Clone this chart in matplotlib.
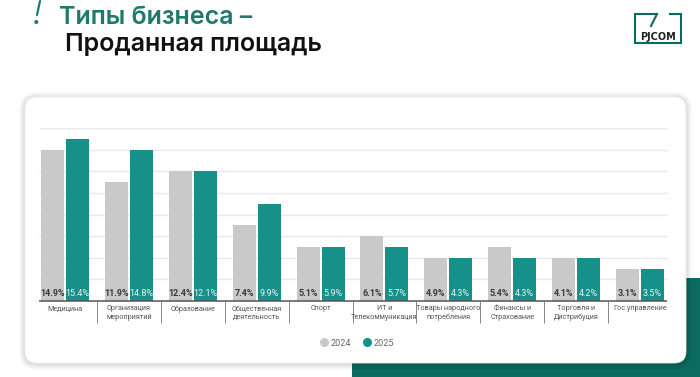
import numpy as np
import matplotlib
matplotlib.use("Agg")
import matplotlib.pyplot as plt
from matplotlib.patches import FancyBboxPatch, Rectangle, Circle
from matplotlib.lines import Line2D
from matplotlib.transforms import blended_transform_factory

plt.rcParams['font.family'] = ['Roboto', 'DejaVu Sans']

# ---- data ----
categories = ["Медицина", "Организация\nмероприятий", "Образование",
              "Общественная\nдеятельность", "Спорт", "ИТ и\nТелекоммуникация",
              "Товары народного\nпотребления", "Финансы и\nСтрахование",
              "Торговля и\nДистрибуция", "Гос.управление"]
# bar heights as drawn in the picture (gridline step = 2)
bars_2024 = [14, 11, 12, 7, 5, 6, 4, 5, 4, 3]
bars_2025 = [15, 14, 12, 9, 5, 5, 4, 4, 4, 3]
# labels printed on the bars
labels_2024 = ["14.9%", "11.9%", "12.4%", "7.4%", "5.1%", "6.1%", "4.9%", "5.4%", "4.1%", "3.1%"]
labels_2025 = ["15.4%", "14.8%", "12.1%", "9.9%", "5.9%", "5.7%", "4.3%", "4.3%", "4.2%", "3.5%"]
series_names = ["2024", "2025"]

GRAY = "#c9c9c9"
TEAL = "#17908a"
DARK_TEAL = "#0b6b60"
TITLE_TEAL = "#1f7a6c"

W, H = 700, 377
fig = plt.figure(figsize=(W / 100, H / 100), dpi=100)
fig.patch.set_facecolor("white")

# background / decoration axes in pixel coordinates
bg = fig.add_axes([0, 0, 1, 1], zorder=0)
bg.set_xlim(0, W)
bg.set_ylim(H, 0)
bg.axis("off")

# teal block behind the card
bg.add_patch(Rectangle((352, 278), W - 352, H - 278, color=DARK_TEAL, lw=0))

# card shadow + card
for i, a in enumerate([0.025, 0.03, 0.035, 0.04]):
    s = 6 - i * 1.5
    bg.add_patch(FancyBboxPatch((25 - s, 97 - s + 1), 661 + 2 * s, 266 + 2 * s,
                                boxstyle="round,pad=0,rounding_size=%g" % (12 + s),
                                fc="black", ec="none", alpha=a))
bg.add_patch(FancyBboxPatch((25, 97), 661, 266, boxstyle="round,pad=0,rounding_size=12",
                            fc="white", ec="#ececec", lw=0.6))

# title
bg.plot([40, 37], [1, 15], color=TITLE_TEAL, lw=1.6, solid_capstyle="round")
bg.add_patch(Circle((36.3, 22), 1.3, color=TITLE_TEAL))
bg.text(59, 18, "Типы бизнеса –", fontsize=18, color=TITLE_TEAL, va="center",
        family=["Inter", "DejaVu Sans"], fontweight="semibold")
bg.text(65, 45, "Проданная площадь", fontsize=18, color="#111111", va="center",
        family=["Inter", "DejaVu Sans"], fontweight="semibold")

# logo
lw_logo = 1.5
bg.plot([657, 635, 635, 681, 681, 670], [14, 14, 43, 43, 14, 14], color=DARK_TEAL,
        lw=lw_logo, solid_joinstyle="miter")
bg.plot([657, 651], [14, 26], color=DARK_TEAL, lw=lw_logo)
bg.text(658, 36.5, "PJCOM", fontsize=7, color="#222222", ha="center", va="center",
        fontweight="bold", family=["DejaVu Sans"])

# ---- chart ----
left, right, base, top = 33, 672, 301, 128
ax = fig.add_axes([left / W, (H - base) / H, (right - left) / W, (base - top) / H], zorder=1)
ax.patch.set_alpha(0)

x = np.arange(len(categories))
bw = 0.36
off = 0.195
ax.set_xlim(-0.5, len(categories) - 0.5)
ax.set_ylim(0, 16)

x0 = (39 - left) / 64 - 0.5
x1 = (668 - left) / 64 - 0.5
ax.hlines(np.arange(2, 17, 2), x0, x1, color="#e8e8e8", lw=1.0, zorder=0)

ax.bar(x - off, bars_2024, bw, color=GRAY, zorder=2, label=series_names[0])
ax.bar(x + off, bars_2025, bw, color=TEAL, zorder=2, label=series_names[1])
ax.hlines(0, x0, x1, color="#555555", lw=1.1, zorder=3, clip_on=False)

for xi, l1, l2 in zip(x, labels_2024, labels_2025):
    ax.annotate(l1, (xi - off, 0), xytext=(0, 7), textcoords="offset pixels",
                ha="center", va="center", fontsize=6.5, fontweight="bold", color="#3a3a3a", zorder=4)
    ax.annotate(l2, (xi + off, 0), xytext=(0, 7), textcoords="offset pixels",
                ha="center", va="center", fontsize=6.5, color="#e8f4f2", zorder=4)

trans = blended_transform_factory(ax.transData, ax.transAxes)
ax.vlines(x[:-1] + 0.5, -22 / (base - top), 0, transform=trans, color="#888888", lw=0.7,
          clip_on=False)
for xi, c in zip(x, categories):
    ax.text(xi, -4.5 / (base - top), c, transform=trans, ha="center", va="top",
            fontsize=5.2, color="#555555", linespacing=1.25)

ax.set_xticks([])
ax.set_yticks([])
for s in ax.spines.values():
    s.set_visible(False)

handles = [Line2D([], [], marker="o", ls="", color=GRAY, markersize=5.5),
           Line2D([], [], marker="o", ls="", color=TEAL, markersize=5.5)]
fig.legend(handles, series_names, loc="center", bbox_to_anchor=(356 / W, 1 - 343 / H),
           ncol=2, frameon=False, fontsize=6.5, labelcolor="#666666",
           handletextpad=0.1, columnspacing=1.2, handlelength=1.2)

fig.savefig("out.png", dpi=100)
